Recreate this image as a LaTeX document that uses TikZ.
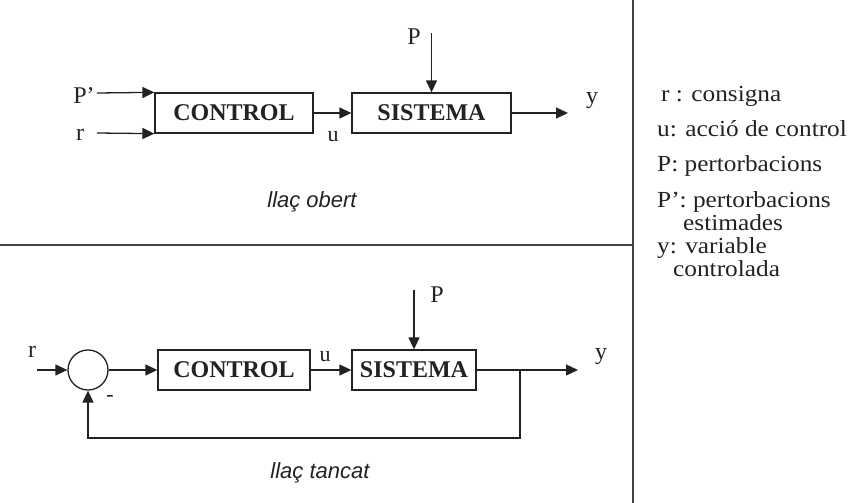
\documentclass[tikz,border=0pt]{standalone}
\usepackage{fontspec}
\setmainfont{Liberation Serif}
\newfontfamily\capsans{Liberation Sans}
\newfontfamily\legendfont[FakeStretch=1.1]{Liberation Serif}
\usetikzlibrary{arrows.meta}
\definecolor{ink}{HTML}{222222}
\definecolor{rulecol}{HTML}{444444}
\tikzset{
  blockbox/.style={draw=ink, line width=1.3pt, minimum height=40pt, inner sep=0pt,
    font=\fontsize{24}{28}\selectfont\bfseries, text=ink},
  wire/.style={draw=ink, line width=1.3pt},
  arr/.style={wire, -{Triangle[length=12pt,width=11pt]}},
  lbl/.style={anchor=base, inner sep=0pt, font=\fontsize{24}{28}\selectfont, text=ink},
  ulbl/.style={anchor=base, inner sep=0pt, font=\fontsize{22}{26}\selectfont, text=ink},
  loopcap/.style={anchor=base, inner sep=0pt, font=\capsans\itshape\fontsize{22}{26}\selectfont, text=ink},
  leg/.style={anchor=base west, inner sep=0pt, font=\legendfont\fontsize{23}{26}\selectfont, text=ink},
  sepline/.style={draw=rulecol, line width=1.4pt}
}
\begin{document}
\begin{tikzpicture}[x=1pt,y=-1pt]
\useasboundingbox (0,0) rectangle (851,503);
% separators
\coordinate (vtop) at (633,0);
\coordinate (vbot) at (633,503);
\coordinate (hl) at (0,245);
\coordinate (hr) at (633,245);
\draw[sepline] (vtop) -- (vbot);
\draw[sepline] (hl) -- (hr);

% ---------- open loop ----------
\node[blockbox, minimum width=158pt] (ctrlA) at (234,113) {CONTROL};
\node[blockbox, minimum width=159pt] (sisA) at (431.5,113) {SISTEMA};
\coordinate (pinA) at (97,93);
\coordinate (rinA) at (97,133);
\coordinate (ptopA) at (431.5,33);
\coordinate (youtA) at (568,113);
\draw[arr] (pinA) -- (ctrlA.north west);
\draw[arr] (rinA) -- (ctrlA.south west);
\draw[arr] (ctrlA.east) -- (sisA.west);
\draw[arr] (ptopA) -- (sisA.north);
\draw[arr] (sisA.east) -- (youtA);
\node[lbl] (lpA) at (84,103) {P’};
\node[lbl] (lrA) at (80,140) {r};
\node[ulbl] (luA) at (333,141) {u};
\node[lbl] (lPA) at (414,45) {P};
\node[lbl] (lyA) at (592,103) {y};
\node[loopcap] (capA) at (312,207) {llaç obert};

% ---------- closed loop ----------
\node[draw=ink, line width=1.3pt, circle, minimum size=40pt, inner sep=0pt] (sum) at (88,370) {};
\node[blockbox, minimum width=152pt] (ctrlB) at (234,370) {CONTROL};
\node[blockbox, minimum width=124pt] (sisB) at (414,370) {SISTEMA};
\coordinate (rinB) at (37,370);
\coordinate (ptopB) at (414,290);
\coordinate (br) at (520,370);
\coordinate (youtB) at (578,370);
\coordinate (fbl) at (88,438);
\draw[arr] (rinB) -- (sum.west);
\draw[arr] (sum.east) -- (ctrlB.west);
\draw[arr] (ctrlB.east) -- (sisB.west);
\draw[arr] (ptopB) -- (sisB.north);
\draw[wire] (sisB.east) -- (br);
\draw[arr] (br) -- (youtB);
\draw[arr] (br) |- (fbl) -- (sum.south);
\node[lbl] (lrB) at (32,357) {r};
\node[ulbl] (luB) at (325,361) {u};
\node[lbl] (lPB) at (437,302) {P};
\node[lbl] (lyB) at (601,359) {y};
\node[inner sep=0pt, font=\fontsize{22}{26}\selectfont, text=ink] (minus) at (110,398) {-};
\node[loopcap] (capB) at (320,478) {llaç tancat};

% ---------- legend ----------
\node[leg] (g1) at (661,101) {r : consigna};
\node[leg] (g2) at (657,136) {u: acció de control};
\node[leg] (g3) at (657,171) {P: pertorbacions};
\node[leg] (g4) at (657,207) {P’: pertorbacions};
\node[leg] (g4b) at (683,230) {estimades};
\node[leg] (g5) at (657,253) {y: variable};
\node[leg] (g5b) at (673,276) {controlada};
\end{tikzpicture}
\end{document}
